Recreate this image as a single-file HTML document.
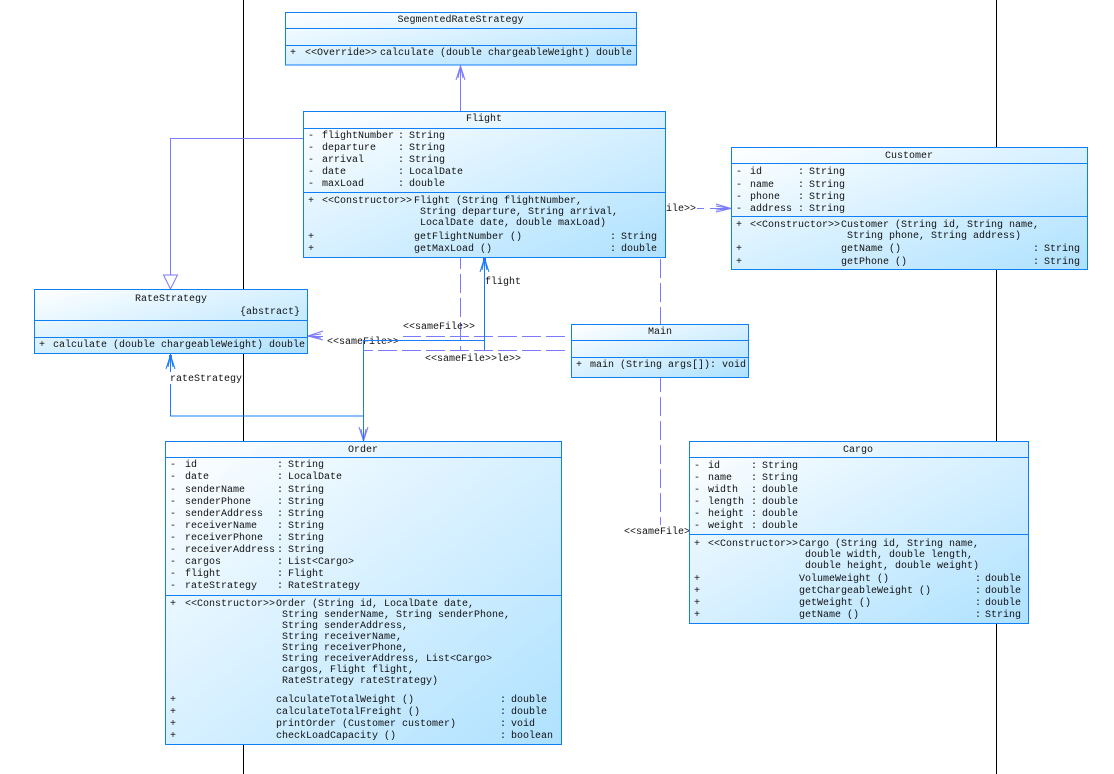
<!DOCTYPE html>
<html>
<head>
<meta charset="utf-8">
<style>
html,body{margin:0;padding:0;background:#fff;width:1114px;height:774px;overflow:hidden}
svg{display:block}
text{font-family:"Liberation Mono","DejaVu Sans Mono",monospace;font-size:10px;fill:#111;white-space:pre;transform:translateY(-1px)}
.c{text-anchor:middle}
.b{fill:url(#g);stroke:#0f7ff5;stroke-width:1}
.d{stroke:#0f7ff5;stroke-width:1;fill:none}
.p{stroke:#7a7afa;stroke-width:1;fill:none}
.da{stroke:#7a7afa;stroke-width:1;fill:none;stroke-dasharray:19 5}
.s{stroke:#1a7cf5;stroke-width:1;fill:none}
</style>
</head>
<body>
<svg width="1114" height="774" viewBox="0 0 1114 774" xmlns="http://www.w3.org/2000/svg">
<defs>
<linearGradient id="g" x1="0" y1="0" x2="1" y2="1">
<stop offset="0" stop-color="#ffffff"/>
<stop offset="1" stop-color="#aee1ff"/>
</linearGradient>
</defs>
<rect width="1114" height="774" fill="#fff"/>

<!-- black vertical lines -->
<path d="M243.5 0V774M996.5 0V774" stroke="#000" stroke-width="1" fill="none"/>

<!-- connectors: dashed first -->
<path class="da" d="M565 336.500H403"/>
<path class="da" d="M565 350.500H363.500"/>
<path class="p" d="M308 336.500H323M323 331L308 336L323 340M321 334L308 336L321 338"/>
<path class="p" d="M359 427L363.5 441L368 427M361 429L363.5 441L366 429"/>
<path class="da" d="M460.500 250V350"/>
<path class="da" d="M660.500 259V324"/>
<path class="da" d="M660.500 373V527"/>
<path class="p" d="M697 208.500H704M710 208.500H731"/>
<path class="p" d="M716 204L731 208.5L716 212M716 206L731 208.5L716 210"/>

<!-- connector labels -->
<rect x="170" y="372" width="72" height="12" fill="#fff"/>
<text x="403" y="330">&lt;&lt;sameFile&gt;&gt;</text>
<text x="327" y="345">&lt;&lt;sameFile&gt;&gt;</text>
<text x="425" y="362">&lt;&lt;sameFile&gt;&gt;le&gt;&gt;</text>
<text x="624" y="212">&lt;&lt;sameFile&gt;&gt;</text>
<rect x="624" y="525" width="65" height="12" fill="#fff"/>
<text x="624" y="535">&lt;&lt;sameFile&gt;&gt;</text>

<!-- solid connectors -->
<path class="p" d="M460.5 111V66M456 80L460.5 66L465 80M458 78L460.5 66L463 78"/>
<path class="p" d="M303 138.5H170.5V275"/>
<path class="p" fill="#fff" d="M163.5 275H177.5L170.5 289Z"/>
<path class="s" d="M363.5 416H170.5V354"/>
<path class="s" d="M166 369L170.5 355L175 369M168 367L170.5 355L173 367"/>
<rect x="169" y="355" width="3" height="3" fill="#1a7cf5"/>
<path class="s" d="M363.5 441V340.500H484.500V350"/>
<path class="s" d="M484.5 340V258"/>
<path class="s" d="M480 272L484.5 258L489 272M482 270L484.5 258L487 270"/>
<rect x="483" y="258" width="3" height="3" fill="#1a7cf5"/>

<rect x="170" y="372" width="72" height="12" fill="#fff"/>
<text x="170" y="382">rateStrategy</text>
<rect x="485" y="275" width="36" height="12" fill="#fff"/>
<text x="485" y="285">flight</text>

<!-- SegmentedRateStrategy -->
<rect class="b" x="285.5" y="12.5" width="351" height="52.5"/>
<path class="d" d="M285.5 28.5H636.5M285.5 45.5H636.5"/>
<text class="c" x="460.5" y="23">SegmentedRateStrategy</text>
<text x="290" y="56">+</text>
<text x="305" y="56">&lt;&lt;Override&gt;&gt;</text>
<text x="380" y="56">calculate (double chargeableWeight) double</text>

<!-- Flight -->
<rect class="b" x="303.5" y="111.5" width="362" height="146"/>
<path class="d" d="M303.5 128.5H665.5M303.5 192.5H665.5"/>
<text class="c" x="484" y="122">Flight</text>
<text x="308" y="139">-</text><text x="322" y="139">flightNumber</text><text x="398" y="139">:</text><text x="409" y="139">String</text>
<text x="308" y="151">-</text><text x="322" y="151">departure</text><text x="398" y="151">:</text><text x="409" y="151">String</text>
<text x="308" y="163">-</text><text x="322" y="163">arrival</text><text x="398" y="163">:</text><text x="409" y="163">String</text>
<text x="308" y="175">-</text><text x="322" y="175">date</text><text x="398" y="175">:</text><text x="409" y="175">LocalDate</text>
<text x="308" y="187">-</text><text x="322" y="187">maxLoad</text><text x="398" y="187">:</text><text x="409" y="187">double</text>
<text x="308" y="204">+</text><text x="322" y="204">&lt;&lt;Constructor&gt;&gt;</text><text x="414" y="204">Flight (String flightNumber,</text>
<text x="420" y="215">String departure, String arrival,</text>
<text x="420" y="226">LocalDate date, double maxLoad)</text>
<text x="308" y="240">+</text><text x="414" y="240">getFlightNumber ()</text><text x="610" y="240">:</text><text x="621" y="240">String</text>
<text x="308" y="252">+</text><text x="414" y="252">getMaxLoad ()</text><text x="610" y="252">:</text><text x="621" y="252">double</text>

<!-- Customer -->
<rect class="b" x="731.5" y="147.5" width="356" height="122"/>
<path class="d" d="M731.5 163.5H1087.5M731.5 216.5H1087.5"/>
<text class="c" x="909" y="159">Customer</text>
<text x="736" y="175">-</text><text x="750" y="175">id</text><text x="798" y="175">:</text><text x="809" y="175">String</text>
<text x="736" y="188">-</text><text x="750" y="188">name</text><text x="798" y="188">:</text><text x="809" y="188">String</text>
<text x="736" y="200">-</text><text x="750" y="200">phone</text><text x="798" y="200">:</text><text x="809" y="200">String</text>
<text x="736" y="212">-</text><text x="750" y="212">address</text><text x="798" y="212">:</text><text x="809" y="212">String</text>
<text x="736" y="228">+</text><text x="750" y="228">&lt;&lt;Constructor&gt;&gt;</text><text x="841" y="228">Customer (String id, String name,</text>
<text x="847" y="239">String phone, String address)</text>
<text x="736" y="252">+</text><text x="841" y="252">getName ()</text><text x="1033" y="252">:</text><text x="1044" y="252">String</text>
<text x="736" y="265">+</text><text x="841" y="265">getPhone ()</text><text x="1033" y="265">:</text><text x="1044" y="265">String</text>

<!-- RateStrategy -->
<rect class="b" x="34.5" y="289.5" width="273" height="64"/>
<path class="d" d="M34.5 320.5H307.500M34.5 337.5H307.500"/>
<text class="c" x="171" y="302">RateStrategy</text>
<text x="240" y="315">{abstract}</text>
<text x="39" y="348">+</text><text x="53" y="348">calculate (double chargeableWeight) double</text>

<!-- Main -->
<rect class="b" x="571.5" y="324.5" width="177" height="53"/>
<path class="d" d="M571.5 340.5H748.5M571.5 357.5H748.5"/>
<text class="c" x="660" y="335">Main</text>
<text x="576" y="368">+</text><text x="590" y="368">main (String args[]): void</text>

<!-- Order -->
<rect class="b" x="165.5" y="441.5" width="396" height="303"/>
<path class="d" d="M165.5 457.5H561.5M165.5 595.5H561.5"/>
<text class="c" x="363" y="453">Order</text>
<text x="170" y="468">-</text><text x="185" y="468">id</text><text x="277" y="468">:</text><text x="288" y="468">String</text>
<text x="170" y="480">-</text><text x="185" y="480">date</text><text x="277" y="480">:</text><text x="288" y="480">LocalDate</text>
<text x="170" y="493">-</text><text x="185" y="493">senderName</text><text x="277" y="493">:</text><text x="288" y="493">String</text>
<text x="170" y="505">-</text><text x="185" y="505">senderPhone</text><text x="277" y="505">:</text><text x="288" y="505">String</text>
<text x="170" y="517">-</text><text x="185" y="517">senderAddress</text><text x="277" y="517">:</text><text x="288" y="517">String</text>
<text x="170" y="529">-</text><text x="185" y="529">receiverName</text><text x="277" y="529">:</text><text x="288" y="529">String</text>
<text x="170" y="541">-</text><text x="185" y="541">receiverPhone</text><text x="277" y="541">:</text><text x="288" y="541">String</text>
<text x="170" y="553">-</text><text x="185" y="553">receiverAddress</text><text x="277" y="553">:</text><text x="288" y="553">String</text>
<text x="170" y="565">-</text><text x="185" y="565">cargos</text><text x="277" y="565">:</text><text x="288" y="565">List&lt;Cargo&gt;</text>
<text x="170" y="577">-</text><text x="185" y="577">flight</text><text x="277" y="577">:</text><text x="288" y="577">Flight</text>
<text x="170" y="589">-</text><text x="185" y="589">rateStrategy</text><text x="277" y="589">:</text><text x="288" y="589">RateStrategy</text>
<text x="170" y="607">+</text><text x="185" y="607">&lt;&lt;Constructor&gt;&gt;</text><text x="276" y="607">Order (String id, LocalDate date,</text>
<text x="282" y="618">String senderName, String senderPhone,</text>
<text x="282" y="629">String senderAddress,</text>
<text x="282" y="640">String receiverName,</text>
<text x="282" y="651">String receiverPhone,</text>
<text x="282" y="662">String receiverAddress, List&lt;Cargo&gt;</text>
<text x="282" y="673">cargos, Flight flight,</text>
<text x="282" y="684">RateStrategy rateStrategy)</text>
<text x="170" y="703">+</text><text x="276" y="703">calculateTotalWeight ()</text><text x="500" y="703">:</text><text x="511" y="703">double</text>
<text x="170" y="715">+</text><text x="276" y="715">calculateTotalFreight ()</text><text x="500" y="715">:</text><text x="511" y="715">double</text>
<text x="170" y="727">+</text><text x="276" y="727">printOrder (Customer customer)</text><text x="500" y="727">:</text><text x="511" y="727">void</text>
<text x="170" y="739">+</text><text x="276" y="739">checkLoadCapacity ()</text><text x="500" y="739">:</text><text x="511" y="739">boolean</text>

<!-- Cargo -->
<rect class="b" x="689.5" y="441.5" width="339" height="182"/>
<path class="d" d="M689.5 457.5H1028.500M689.5 534.5H1028.500"/>
<text class="c" x="858" y="453">Cargo</text>
<text x="694" y="469">-</text><text x="708" y="469">id</text><text x="751" y="469">:</text><text x="762" y="469">String</text>
<text x="694" y="481">-</text><text x="708" y="481">name</text><text x="751" y="481">:</text><text x="762" y="481">String</text>
<text x="694" y="493">-</text><text x="708" y="493">width</text><text x="751" y="493">:</text><text x="762" y="493">double</text>
<text x="694" y="505">-</text><text x="708" y="505">length</text><text x="751" y="505">:</text><text x="762" y="505">double</text>
<text x="694" y="517">-</text><text x="708" y="517">height</text><text x="751" y="517">:</text><text x="762" y="517">double</text>
<text x="694" y="529">-</text><text x="708" y="529">weight</text><text x="751" y="529">:</text><text x="762" y="529">double</text>
<text x="694" y="547">+</text><text x="708" y="547">&lt;&lt;Constructor&gt;&gt;</text><text x="799" y="547">Cargo (String id, String name,</text>
<text x="805" y="558">double width, double length,</text>
<text x="805" y="569">double height, double weight)</text>
<text x="694" y="582">+</text><text x="799" y="582">VolumeWeight ()</text><text x="975" y="582">:</text><text x="985" y="582">double</text>
<text x="694" y="594">+</text><text x="799" y="594">getChargeableWeight ()</text><text x="975" y="594">:</text><text x="985" y="594">double</text>
<text x="694" y="606">+</text><text x="799" y="606">getWeight ()</text><text x="975" y="606">:</text><text x="985" y="606">double</text>
<text x="694" y="618">+</text><text x="799" y="618">getName ()</text><text x="975" y="618">:</text><text x="985" y="618">String</text>
</svg>
</body>
</html>
